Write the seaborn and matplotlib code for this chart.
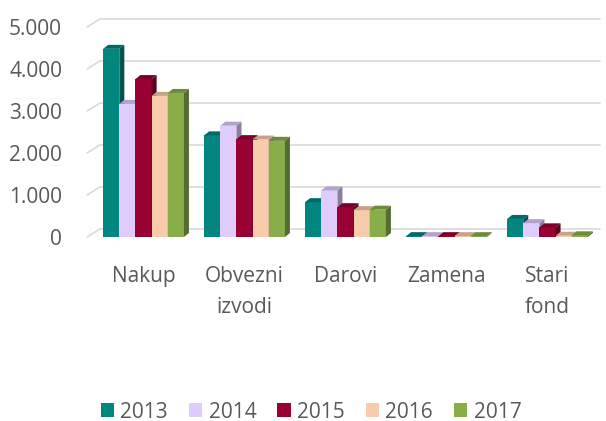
import numpy as np
import pandas as pd
import seaborn as sns
import matplotlib
matplotlib.use("Agg")
import matplotlib.pyplot as plt
from matplotlib.patches import Polygon
from matplotlib.lines import Line2D
from matplotlib.transforms import IdentityTransform
from matplotlib.colors import to_rgb

categories = ["Nakup", "Obvezni\nizvodi", "Darovi", "Zamena", "Stari\nfond"]
years = ["2013", "2014", "2015", "2016", "2017"]
v2013 = [4480, 2420, 830, 20, 430]
v2014 = [3170, 2650, 1110, 20, 330]
v2015 = [3760, 2330, 710, 20, 230]
v2016 = [3360, 2320, 640, 20, 30]
v2017 = [3430, 2290, 650, 20, 40]
colors = ["#00857F", "#E0CBFD", "#990033", "#F8CBAD", "#88AE4A"]
yticks = [0, 1000, 2000, 3000, 4000, 5000]
ytick_labels = ["0", "1.000", "2.000", "3.000", "4.000", "5.000"]

series = [v2013, v2014, v2015, v2016, v2017]
rows = []
for yr, vals in zip(years, series):
    for c, v in zip(categories, vals):
        rows.append({"cat": c, "year": yr, "value": v})
df = pd.DataFrame(rows)

sns.set_theme(style="white")
plt.rcParams["font.family"] = ["Open Sans", "DejaVu Sans"]
TXT = "#595959"

fig = plt.figure(figsize=(6.06, 4.21), dpi=100)
ax = fig.add_axes([87 / 606, 184 / 421, 513 / 606, 210 / 421])
sns.barplot(data=df, x="cat", y="value", hue="year", order=categories,
            hue_order=years, palette=colors, width=0.8, saturation=1,
            ax=ax, legend=False, linewidth=0)
ax.set_xlim(-0.56, 4.52)
ax.set_ylim(0, 5000)
for s in ax.spines.values():
    s.set_visible(False)
ax.set_xlabel("")
ax.set_ylabel("")
ax.set_yticks(yticks, ytick_labels)
ax.set_xticks(range(len(categories)), categories)
ax.tick_params(axis="y", length=0, pad=18, labelsize=15, labelcolor=TXT)
ax.tick_params(axis="x", length=0, pad=21, labelsize=15, labelcolor=TXT)
for t in ax.get_xticklabels():
    t.set_linespacing(1.6)

# depth effect derived from bar geometry
dx, dy = 5, 4
bars = sorted([p for p in ax.patches if p.get_width() > 0], key=lambda p: p.get_x())
for i, p in enumerate(bars):
    col = np.array(to_rgb(p.get_facecolor()))
    x0 = p.get_x(); x1 = x0 + p.get_width(); h = p.get_height()
    (px0, py0) = ax.transData.transform((x0, 0))
    (px1, py1) = ax.transData.transform((x1, h))
    p.set_zorder(2 + 2 * i)
    side = Polygon([(px1, py0), (px1 + dx, py0 + dy), (px1 + dx, py1 + dy), (px1, py1)],
                   closed=True, facecolor=col * 0.62, edgecolor="none",
                   transform=IdentityTransform(), zorder=3 + 2 * i, clip_on=False)
    top = Polygon([(px0, py1), (px0 + dx, py1 + dy), (px1 + dx, py1 + dy), (px1, py1)],
                  closed=True, facecolor=col * 0.8, edgecolor="none",
                  transform=IdentityTransform(), zorder=3 + 2 * i, clip_on=False)
    ax.add_artist(side)
    ax.add_artist(top)

# back-wall gridlines
for yv in yticks:
    (gx0, gy0) = ax.transData.transform((ax.get_xlim()[0], yv))
    (gx1, _) = ax.transData.transform((ax.get_xlim()[1], yv))
    ln = Line2D([gx0, gx0 + 13, gx1], [gy0, gy0 + 8, gy0 + 8], color="#D9D9D9",
                lw=1.2, transform=IdentityTransform(), zorder=0.5, clip_on=False)
    ax.add_artist(ln)

handles = [plt.Rectangle((0, 0), 1, 1, facecolor=c, edgecolor="none") for c in colors]
leg = fig.legend(handles, years, loc="center", bbox_to_anchor=(311 / 606, 1 - 412 / 421),
                 ncol=5, frameon=False, fontsize=15, handlelength=0.65, handleheight=0.65,
                 handletextpad=0.3, columnspacing=1.0, labelcolor=TXT)

fig.savefig("out.png", dpi=100)
